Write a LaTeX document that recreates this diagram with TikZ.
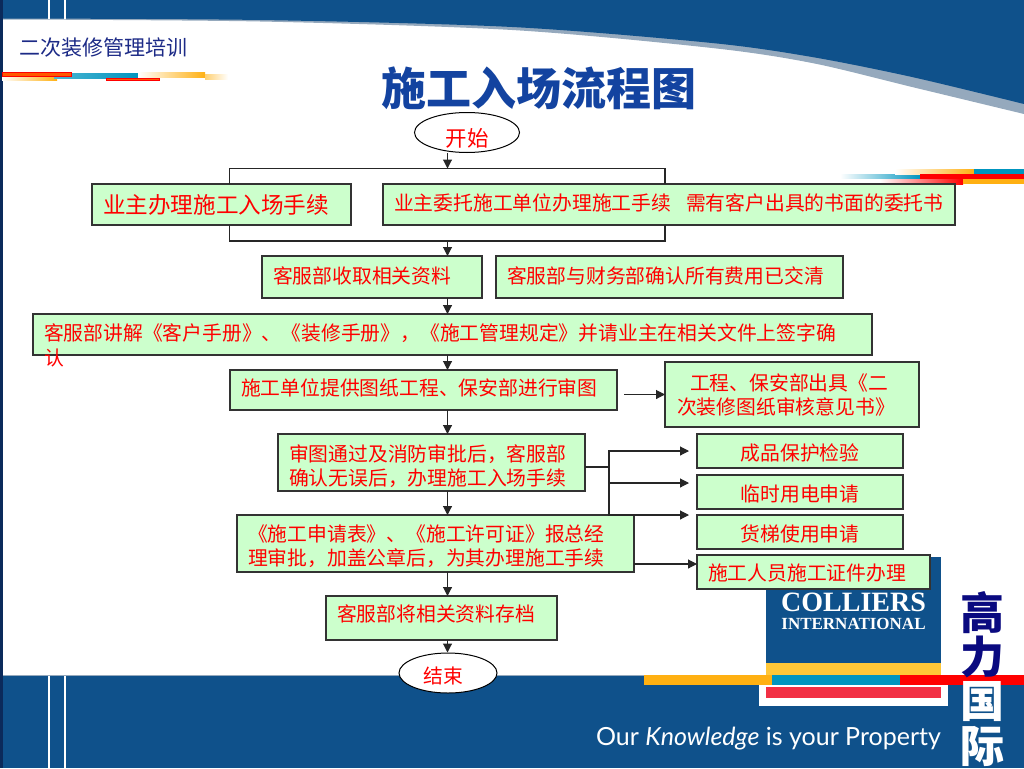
\documentclass[tikz,border=0pt]{standalone}
\usepackage{fontspec}
\setmainfont{Noto Sans CJK SC}
\newfontfamily\logofont{Liberation Serif}
\newfontfamily\slogan{Lato}
\usetikzlibrary{shapes.geometric,arrows.meta,shadows}

\definecolor{sheetblue}{HTML}{0F518B}
\definecolor{edgeblue}{HTML}{0B2A5B}
\definecolor{swoosh}{HTML}{95A9BD}
\definecolor{boxgreen}{HTML}{CCFFCC}
\definecolor{boxline}{HTML}{333333}
\definecolor{titleblue}{HTML}{1343A0}
\definecolor{coursenavy}{HTML}{1C2A86}
\definecolor{gaolinavy}{HTML}{0A0A80}
\definecolor{barorange}{HTML}{FFB012}
\definecolor{barteal}{HTML}{0095BF}
\definecolor{logoyellow}{HTML}{FFC738}
\definecolor{logored}{HTML}{F23044}

% baseline of the text #1 pt under the middle of its node
\newcommand{\nudge}[2]{\raisebox{-#1pt}[0pt][0pt]{#2}}
\newcommand{\droplines}[2]{\smash{\raisebox{-#1pt}{\parbox[t]{\linewidth}{#2}}}}

\tikzset{
  flowbox/.style 2 args={draw=boxline, line width=1.2pt, fill=boxgreen, text=red,
    anchor=north west, inner xsep=11pt, inner ysep=0pt, outer sep=0pt,
    minimum width=#1pt, minimum height=#2pt, text width=#1pt-22pt, align=left,
    font=\fontsize{19.8}{24}\selectfont,
    general shadow={shadow xshift=1.2pt, shadow yshift=1.5pt, fill=black!45}},
  endpoint/.style={draw=black, line width=1pt, fill=white, ellipse, inner sep=0pt,
    text=red, minimum width=105pt, minimum height=40pt},
  flowline/.style={draw=black!85, line width=1.1pt},
  flowarrow/.style={flowline, -{Triangle[length=9pt,width=9pt]}}
}

\begin{document}
\begin{tikzpicture}[x=1pt, y=-1pt]
  \useasboundingbox (0,0) rectangle (1024,768);

  % Sheet background
  \fill[swoosh] (0,0) -- (1024,0) -- plot[smooth] coordinates {(1024,114) (912,87) (812,63) (712,48) (512,30) (260,21.5) (3,19.5)} -- cycle;
  \fill[sheetblue] (0,0) -- (1024,0) -- plot[smooth] coordinates {(1024,104) (912,77) (812,57) (712,43) (512,27) (260,20) (3,18.5)} -- cycle;
  \fill[sheetblue] (0,675) rectangle (1024,768);
  \fill[swoosh] (0,674.5) rectangle (1024,675.5);
  \fill[edgeblue] (0,0) rectangle (3,768);
  \foreach \x in {48,64} {
    \fill[white] (\x,0) rectangle (\x+2,19);
    \fill[white] (\x,676) rectangle (\x+2,768);
  }

  % Stripes, top left
  \fill[left color=white, right color=barorange] (2,77) rectangle (57,80);
  \fill[left color=barteal!70, right color=barteal] (54,73) rectangle (138,78);
  \fill[left color=white, right color=barorange] (138,72) rectangle (205,77);
  \fill[left color=barorange!60, right color=white] (205,74) rectangle (228,79);
  \filldraw[fill=orange!70!red, draw=red, line width=0.8pt] (2.5,72.5) rectangle (71,76.5);
  \filldraw[fill=orange!70!red, draw=red, line width=0.8pt] (106.5,78) rectangle (159.5,80.5);

  % Stripes, top right
  \fill[left color=white, right color=barteal] (840,174) rectangle (920,178);
  \fill[left color=white, right color=barorange] (895,169) rectangle (974,174);
  \fill[barteal] (974,169) rectangle (1024,174);
  \fill[red] (920,174) rectangle (1024,179);
  \fill[left color=white, right color=red] (880,179) rectangle (963,184);
  \fill[barorange] (963,179) rectangle (1024,184);

  % Logo
  \fill[white] (759,685) rectangle (948,706);
  \fill[sheetblue] (766,557) rectangle (941,663);
  \fill[logoyellow] (766,663) rectangle (941,675);
  \fill[logored] (766,687) rectangle (941,698);
  \fill[barorange] (644,675) rectangle (772,685);
  \fill[barteal] (772,675) rectangle (900,685);
  \fill[red] (900,675) rectangle (1024,685);
  \node[text=white, inner sep=0pt, font=\logofont\bfseries\fontsize{28}{28}\selectfont] (colliers) at (853.5,602) {COLLIERS};
  \node[text=white, inner sep=0pt, font=\logofont\bfseries\fontsize{17}{17}\selectfont] (international) at (853.5,624) {INTERNATIONAL};
  \node[text=gaolinavy, font=\bfseries\fontsize{44}{44}\selectfont] (gao) at (982,613) {高};
  \node[text=gaolinavy, font=\bfseries\fontsize{44}{44}\selectfont] (li) at (982,657) {力};
  \node[text=white, font=\bfseries\fontsize{44}{44}\selectfont] (guo) at (982,702) {国};
  \node[text=white, font=\bfseries\fontsize{44}{44}\selectfont] (ji) at (982,746) {际};
  \node[text=white, font=\slogan\fontsize{25}{25}\selectfont] (motto) at (768.5,739) {Our \textit{Knowledge} is your Property};

  % Titles
  \node[text=coursenavy, font=\fontsize{21}{21}\selectfont] (course) at (103,48) {二次装修管理培训};
  \node[text=titleblue, font=\bfseries\fontsize{45}{45}\selectfont] (title) at (538.5,88) {施工入场流程图};

  % Flow boxes
  \node[endpoint, font=\fontsize{21.5}{24}\selectfont] (begin) at (467,132.5) {\nudge{13.7}{开始}};
  \node[flowbox={259}{41}, font=\fontsize{22.6}{24}\selectfont] (owner) at (92,184) {业主办理施工入场手续};
  \node[flowbox={572}{41}] (agent) at (383,184) {\nudge{6}{业主委托施工单位办理施工手续\hspace{15pt}需有客户出具的书面的委托书}};
  \node[flowbox={220}{42}] (collect) at (262,256) {\nudge{6.5}{客服部收取相关资料}};
  \node[flowbox={347}{42}] (fees) at (496,256) {\nudge{6.5}{客服部与财务部确认所有费用已交清}};
  \node[flowbox={839}{41}] (explain) at (33,314) {\smash{\raisebox{-5.5pt}{\parbox[t]{830pt}{\baselineskip=25pt 客服部讲解《客户手册》、《装修手册》，《施工管理规定》并请业主在相关文件上签字确\\认}}}};
  \node[flowbox={387}{40}] (drawings) at (230,370) {\nudge{5.5}{施工单位提供图纸工程、保安部进行审图}};
  \node[flowbox={254}{65}, align=center] (opinion) at (665,362) {\hspace*{-6pt}工程、保安部出具《二\\\hspace*{-12pt}次装修图纸审核意见书》};
  \node[flowbox={307}{57}] (approve) at (278,434) {\droplines{-1.3}{审图通过及消防审批后，客服部\\确认无误后，办理施工入场手续}};
  \node[flowbox={397}{57}] (permit) at (237,515) {\droplines{-2}{《施工申请表》、《施工许可证》报总经\\理审批，加盖公章后，为其办理施工手续}};
  \node[flowbox={231}{44}] (archive) at (326,596) {\nudge{3.5}{客服部将相关资料存档}};
  \node[endpoint, minimum width=98pt, font=\fontsize{19.8}{24}\selectfont] (finish) at (448,673) {\hspace*{-10pt}\nudge{10.5}{结束}};

  % Side boxes
  \foreach \nm/\y/\txt in {protect/434/成品保护检验, power/475/临时用电申请, lift/515/货梯使用申请} {
    \node[flowbox={206}{34}, align=center] (\nm) at (697,\y) {\nudge{9}{\txt}};
  }
  \node[flowbox={233}{34}] (badge) at (697,555) {\nudge{8.5}{施工人员施工证件办理}};

  % Free ends
  \coordinate (spine) at (447.5,0);
  \coordinate (topbar) at (447.5,168.5);
  \coordinate (botbar) at (447.5,241);
  \coordinate (leftbar) at (229.5,0);
  \coordinate (rightbar) at (665,0);
  \coordinate (drawfrom) at (624,394.5);
  \coordinate (fork) at (609,467);
  \coordinate (tipa) at (689,451);
  \coordinate (tipb) at (689,483);
  \coordinate (tipc) at (689,515);

  % Bracket round the two first boxes
  \draw[flowline] (leftbar |- owner.north) |- (topbar) -| (rightbar |- agent.north);
  \draw[flowline] (leftbar |- owner.south) |- (botbar) -| (rightbar |- agent.south);

  % Main line
  \draw[flowarrow] (spine |- begin.south) -- (topbar);
  \draw[flowarrow] (botbar) -- (spine |- collect.north);
  \draw[flowarrow] (spine |- collect.south) -- (spine |- explain.north);
  \draw[flowarrow] (spine |- explain.south) -- (spine |- drawings.north);
  \draw[flowarrow] (spine |- drawings.south) -- (spine |- approve.north);
  \draw[flowarrow] (spine |- approve.south) -- (spine |- permit.north);
  \draw[flowarrow] (spine |- permit.south) -- (spine |- archive.north);
  \draw[flowarrow] (spine |- archive.south) -- (spine |- finish.north);

  % Side lines
  \draw[flowarrow] (drawfrom) -- (drawfrom -| opinion.west);
  \draw[flowline] (approve.east |- fork) -- (fork);
  \draw[flowarrow] (fork) |- (tipa);
  \draw[flowarrow] (fork) |- (tipb);
  \draw[flowarrow] (fork) |- (tipc);
  \draw[flowarrow] (permit.east |- 0,564) -- (badge.west |- 0,564);
\end{tikzpicture}
\end{document}
